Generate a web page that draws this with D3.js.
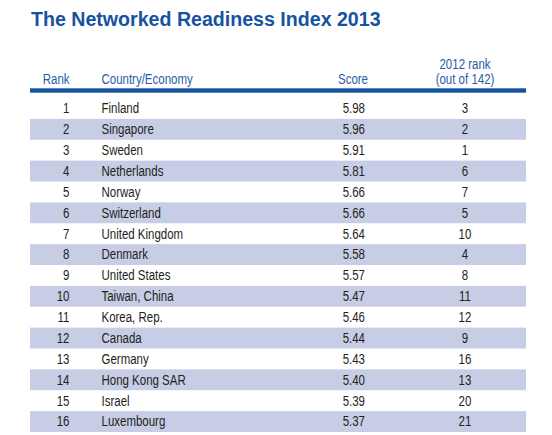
<!DOCTYPE html>
<html>
<head>
<meta charset="utf-8">
<script src="https://cdn.jsdelivr.net/npm/d3@7"></script>
<style>
  html, body { margin: 0; padding: 0; background: #fff; }
  svg { display: block; }
  .narrow { font-family: "Liberation Sans", Arial, Helvetica, sans-serif; }
</style>
</head>
<body>
<svg id="chart" width="552" height="435"></svg>
<script>
const title = "The Networked Readiness Index 2013";
const columnHeaders = ["Rank", "Country/Economy", "Score", "2012 rank", "(out of 142)"];
const ranks = [1, 2, 3, 4, 5, 6, 7, 8, 9, 10, 11, 12, 13, 14, 15, 16];
const countries = ["Finland", "Singapore", "Sweden", "Netherlands", "Norway", "Switzerland",
  "United Kingdom", "Denmark", "United States", "Taiwan, China", "Korea, Rep.", "Canada",
  "Germany", "Hong Kong SAR", "Israel", "Luxembourg"];
const scores = [5.98, 5.96, 5.91, 5.81, 5.66, 5.66, 5.64, 5.58, 5.57, 5.47, 5.46, 5.44, 5.43, 5.40, 5.39, 5.37];
const ranks2012 = [3, 2, 1, 6, 7, 5, 10, 4, 8, 11, 12, 9, 16, 13, 20, 21];

const rows = ranks.map((r, i) => ({ rank: r, country: countries[i], score: scores[i], prev: ranks2012[i] }));

const svg = d3.select("#chart");
const left = 30, right = 526;
const blue = "#1553a0";
const textColor = "#231f20";
const band = "#c6cde5";
const squeeze = 0.82;

const y = d3.scaleBand().domain(rows.map(d => d.rank)).range([98, 432]).paddingInner(0).paddingOuter(0);

// condensed text helper
function ctext(sel, x, yy, txt, anchor) {
  const gg = sel.append("g").attr("transform", `translate(${x},${yy}) scale(${squeeze},1)`);
  gg.append("text").attr("x", 0).attr("y", 0).attr("text-anchor", anchor || "start").text(txt);
  return gg;
}

// Title
svg.append("text")
  .attr("x", 31).attr("y", 26)
  .attr("font-family", "Liberation Sans, Arial, Helvetica, sans-serif")
  .attr("font-weight", "bold")
  .attr("font-size", 19.6)
  .attr("fill", blue)
  .text(title);

// Header
const hdr = svg.append("g").attr("class", "narrow").attr("font-size", 14).attr("fill", "#2a5ca8");
ctext(hdr, 69.5, 84, columnHeaders[0], "end");
ctext(hdr, 101.5, 84, columnHeaders[1], "start");
ctext(hdr, 368, 84, columnHeaders[2], "end");
ctext(hdr, 465, 68.5, columnHeaders[3], "middle");
ctext(hdr, 465, 83.5, columnHeaders[4], "middle");

svg.append("rect").attr("x", left).attr("y", 88.3).attr("width", right - left).attr("height", 4.4).attr("fill", blue);

// Row bands
svg.append("g").selectAll("rect")
  .data(rows.filter((d, i) => i % 2 === 1))
  .join("rect")
  .attr("x", left)
  .attr("y", d => y(d.rank))
  .attr("width", right - left)
  .attr("height", y.bandwidth())
  .attr("fill", band);

// Row texts
const g = svg.append("g").attr("class", "narrow").attr("font-size", 14).attr("fill", textColor);
rows.forEach(d => {
  const yy = y(d.rank) + 15.3;
  ctext(g, 69.5, yy, String(d.rank), "end");
  ctext(g, 101.5, yy, d.country, "start");
  ctext(g, 365, yy, d3.format(".2f")(d.score), "end");
  ctext(g, 465, yy, String(d.prev), "middle");
});
</script>
</body>
</html>
